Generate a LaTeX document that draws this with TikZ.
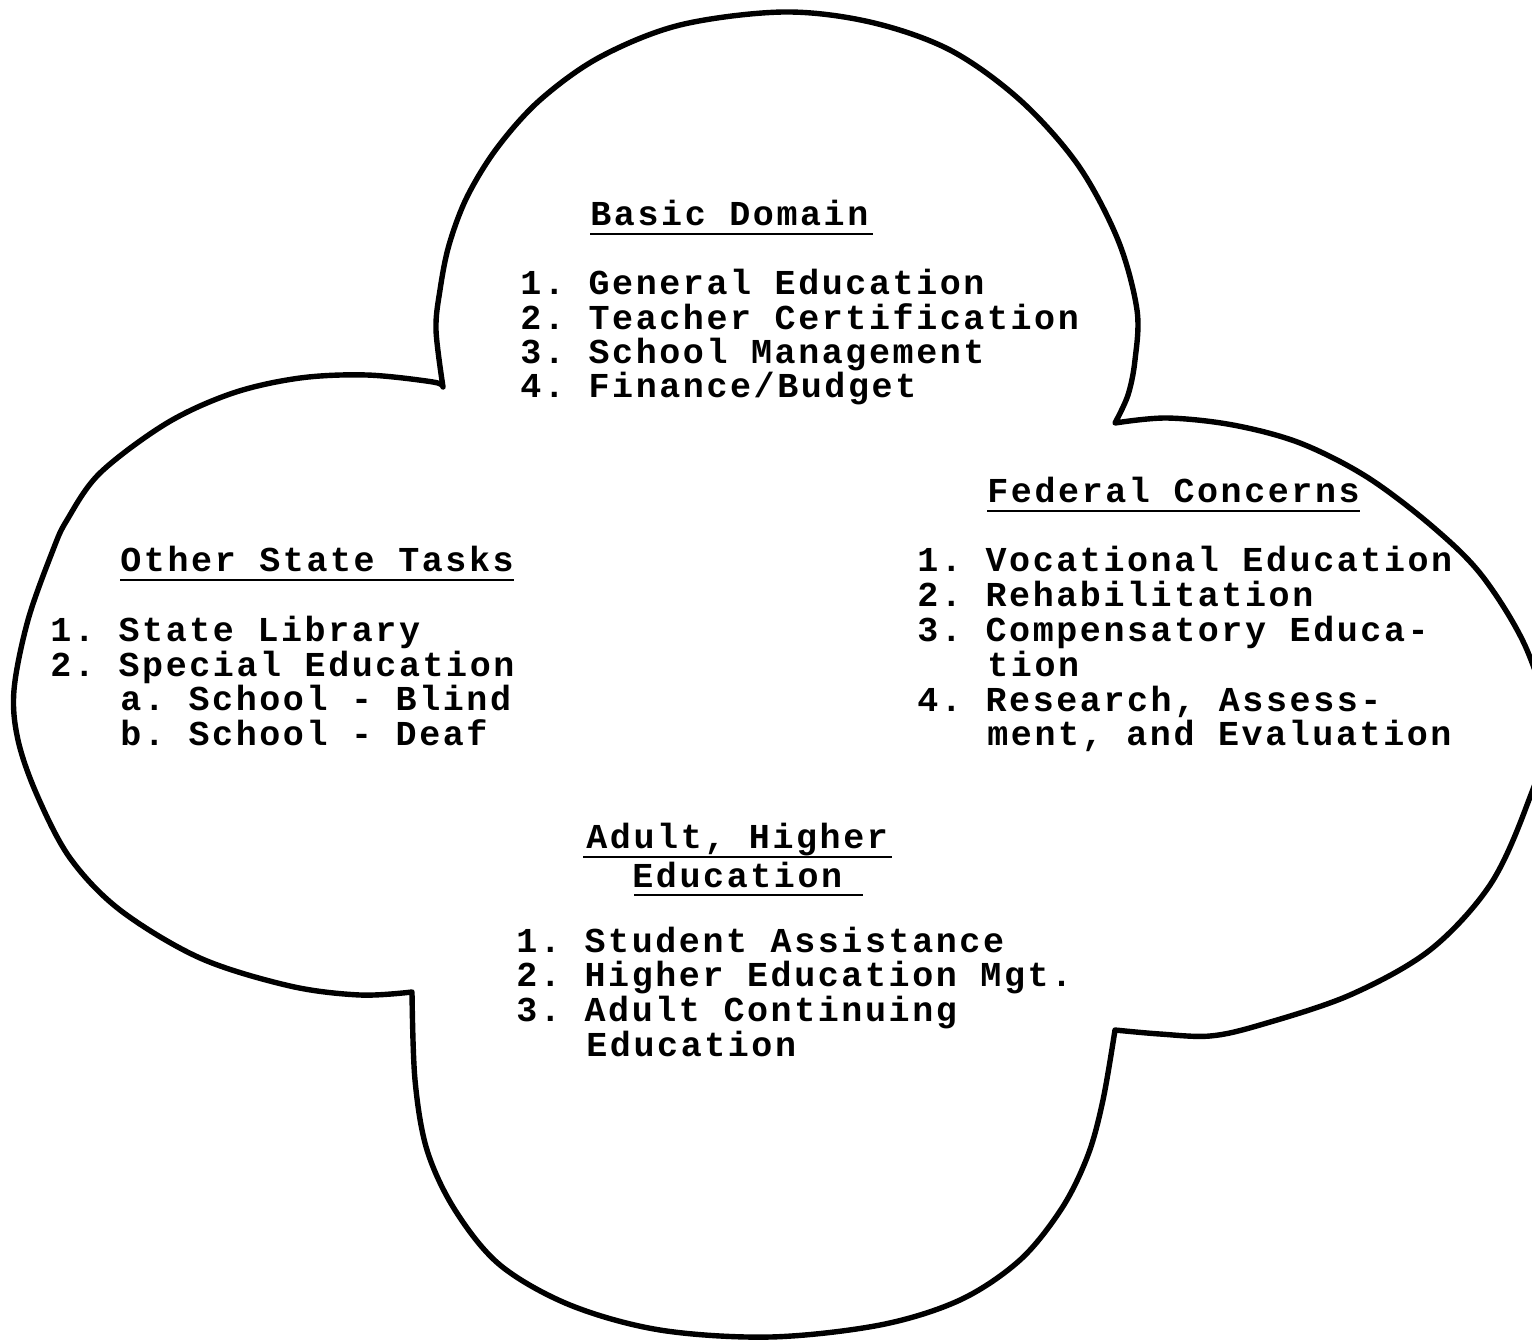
\documentclass[tikz,border=0pt]{standalone}
\usepackage{fontspec}
\newfontfamily\twfont{Liberation Mono}[LetterSpace=7.4]
\begin{document}
\frenchspacing
\begin{tikzpicture}[x=0.5pt,y=-0.5pt,
  outline/.style={line width=2.7pt, line join=round, line cap=round},
  txt/.style={inner sep=0pt, anchor=base west, text height=8pt, text depth=0.5pt,
    font=\twfont\bfseries\fontsize{17.5pt}{17pt}\selectfont\frenchspacing},
  uline/.style={line width=1.1pt}]
\useasboundingbox (0,0) rectangle (1532,1340);
\clip (0,0) rectangle (1532,1340);
% cloud outline: four lobes
\draw[outline]
  plot[smooth,tension=0.55] coordinates {(443,387) (436,330) (440,290) (449,245) (467,197) (497,148) (540,100) (600,57) (680,25) (783,12) (870,22) (950,50) (1020,100) (1078,165) (1118,240) (1137,310) (1135,360) (1128,395) (1115,423)}
  -- plot[smooth,tension=0.55] coordinates {(1115,423) (1167,418) (1233,425) (1300,443) (1367,477) (1433,527) (1483,577) (1527,650) (1548,730) (1527,805) (1490,885) (1430,950) (1350,995) (1260,1025) (1210,1036) (1160,1034) (1115,1030)}
  -- plot[smooth,tension=0.55] coordinates {(1115,1030) (1103,1100) (1088,1155) (1062,1208) (1020,1260) (960,1300) (880,1325) (770,1337) (660,1330) (570,1305) (500,1265) (455,1210) (427,1150) (415,1080) (412,992)}
  -- plot[smooth,tension=0.55] coordinates {(412,992) (360,995) (290,986) (200,958) (120,910) (70,858) (37,795) (18,740) (14,690) (28,620) (53,550) (67,520) (100,473) (167,423) (233,393) (300,378) (367,375) (433,382) (443,387)}
  -- cycle;
% Basic Domain
\node[txt] (bdh) at (590,225) {Basic Domain};
\draw[uline] ([yshift=-4.5pt]bdh.base west) -- ([yshift=-4.5pt,xshift=2pt]bdh.base east);
\node[txt] (bd1) at (520,294) {1. General Education};
\node[txt] (bd2) at (520,329) {2. Teacher Certification};
\node[txt] (bd3) at (520,363) {3. School Management};
\node[txt] (bd4) at (520,397) {4. Finance/Budget};
% Other State Tasks
\node[txt] (osh) at (120,571) {Other State Tasks};
\draw[uline] ([yshift=-4.5pt]osh.base west) -- ([yshift=-4.5pt]osh.base east);
\node[txt] (os1) at (50,641) {1. State Library};
\node[txt] (os2) at (50,676) {2. Special Education};
\node[txt] (os2a) at (120,710) {a. School - Blind};
\node[txt] (os2b) at (120,745) {b. School - Deaf};
% Federal Concerns
\node[txt] (fch) at (987,502) {Federal Concerns};
\draw[uline] ([yshift=-4.5pt]fch.base west) -- ([yshift=-4.5pt]fch.base east);
\node[txt] (fc1) at (917,571) {1. Vocational Education};
\node[txt] (fc2) at (917,606) {2. Rehabilitation};
\node[txt] (fc3) at (917,641) {3. Compensatory Educa-};
\node[txt] (fc3b) at (987,676) {tion};
\node[txt] (fc4) at (917,711) {4. Research, Assess-};
\node[txt] (fc4b) at (987,745) {ment, and Evaluation};
% Adult, Higher Education
\node[txt] (ahh) at (586,848) {Adult, Higher};
\draw[uline] ([yshift=-4.5pt,xshift=-1.5pt]ahh.base west) -- ([yshift=-4.5pt,xshift=2pt]ahh.base east);
\node[txt] (ahh2) at (632,887) {Education};
\draw[uline] ([yshift=-4pt,xshift=1pt]ahh2.base west) -- ([yshift=-4pt,xshift=10pt]ahh2.base east);
\node[txt] (ah1) at (516,952) {1. Student Assistance};
\node[txt] (ah2) at (516,986) {2. Higher Education Mgt.};
\node[txt] (ah3) at (516,1021) {3. Adult Continuing};
\node[txt] (ah3b) at (586,1056) {Education};
\end{tikzpicture}
\end{document}
